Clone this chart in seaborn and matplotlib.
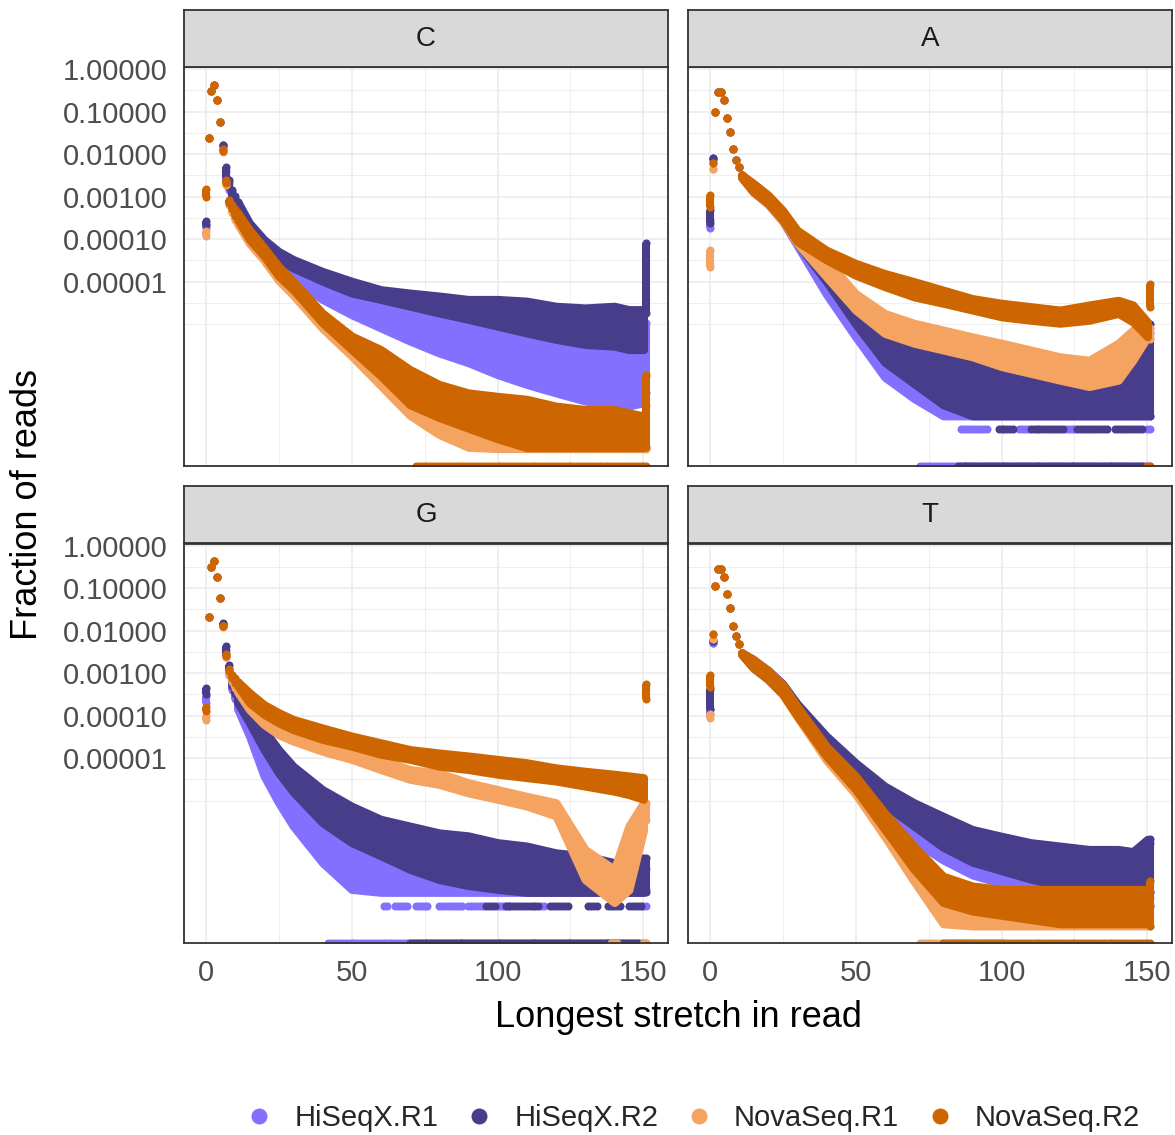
import numpy as np
import pandas as pd
import matplotlib
matplotlib.use("Agg")
import matplotlib.pyplot as plt
from matplotlib.lines import Line2D
from matplotlib.ticker import NullFormatter
import seaborn as sns

sns.set_theme(style="white")
plt.rcParams["font.family"] = ["Liberation Sans", "DejaVu Sans"]

# ---------------------------------------------------------------- data
SERIES = ["HiSeqX.R1", "HiSeqX.R2", "NovaSeq.R1", "NovaSeq.R2"]
COLORS = ["#8470FF", "#483D8B", "#F4A460", "#CD6600"]
PANELS = ["C", "A", "G", "T"]

# longest homopolymer stretch (x) at which the per-series spread is given
KNOT_X = [0, 1, 2, 3, 4, 5, 6, 7, 8, 9, 10, 11, 15, 20, 25, 30, 40, 50, 60,
          70, 80, 90, 100, 110, 120, 130, 140, 145, 150, 151]

# log10(fraction of reads): upper / lower edge over all samples of a series
C_HX1_HI = [-3.65, -1.63, -0.51, -0.38, -0.73, -1.24, -1.80, -2.40, -2.68, -2.90, -3.05, -3.18,
            -3.70, -4.10, -4.40, -4.60, -4.90, -5.15, -5.35, -5.45, -5.55, -5.65, -5.70, -5.75,
            -5.85, -5.90, -5.90, -5.95, -5.95, -5.97]
C_HX1_LO = [-3.75, -1.63, -0.51, -0.38, -0.73, -1.24, -1.82, -2.60, -2.85, -3.12, -3.30, -3.42,
            -4.01, -4.40, -4.72, -4.95, -5.42, -5.78, -6.09, -6.40, -6.68, -6.91, -7.19, -7.42,
            -7.62, -7.81, -7.93, -7.93, -7.85, -7.62]
C_HX2_HI = [-3.58, -1.63, -0.51, -0.38, -0.73, -1.24, -1.79, -2.30, -2.62, -2.85, -2.99, -3.12,
            -3.62, -4.01, -4.29, -4.48, -4.76, -4.99, -5.19, -5.27, -5.34, -5.42, -5.42, -5.46,
            -5.58, -5.62, -5.58, -5.66, -5.66, -4.10]
C_HX2_LO = [-3.66, -1.63, -0.51, -0.38, -0.73, -1.24, -1.79, -2.55, -2.78, -3.05, -3.22, -3.35,
            -3.77, -4.17, -4.48, -4.68, -4.99, -5.27, -5.42, -5.58, -5.74, -5.89, -6.05, -6.21,
            -6.36, -6.48, -6.52, -6.60, -6.60, -5.74]
C_NS1_HI = [-3.80, -1.63, -0.51, -0.38, -0.73, -1.24, -1.90, -2.65, -3.10, -3.25, -3.35, -3.45,
            -3.85, -4.30, -4.75, -5.10, -5.85, -6.40, -6.80, -7.30, -7.60, -7.90, -8.10, -8.20,
            -8.20, -8.25, -8.25, -8.25, -8.25, -7.90]
C_NS1_LO = [-3.92, -1.63, -0.51, -0.38, -0.73, -1.24, -1.95, -2.72, -3.20, -3.38, -3.55, -3.65,
            -4.10, -4.50, -4.97, -5.32, -6.10, -6.75, -7.45, -8.15, -8.60, -8.90, -8.93, -8.93,
            -8.93, -8.93, -8.93, -8.93, -8.93, -8.93]
C_NS2_HI = [-2.81, -1.63, -0.51, -0.38, -0.73, -1.24, -1.88, -2.62, -3.08, -3.20, -3.30, -3.38,
            -3.78, -4.20, -4.64, -4.99, -5.74, -6.28, -6.60, -7.07, -7.42, -7.62, -7.70, -7.77,
            -7.93, -8.01, -8.01, -8.09, -8.16, -7.20]
C_NS2_LO = [-3.00, -1.63, -0.51, -0.38, -0.73, -1.24, -1.92, -2.68, -3.15, -3.30, -3.46, -3.55,
            -4.01, -4.40, -4.87, -5.19, -5.97, -6.60, -7.22, -7.90, -8.20, -8.45, -8.70, -8.91,
            -8.91, -8.91, -8.91, -8.91, -8.91, -8.90]

A_HX1_HI = [-3.55, -2.12, -1.00, -0.53, -0.53, -0.73, -1.15, -1.47, -1.89, -2.13, -2.30, -2.49,
            -2.72, -3.00, -3.38, -3.90, -4.60, -5.45, -6.00, -6.45, -6.80, -7.00, -7.05, -7.10,
            -7.10, -7.10, -7.05, -7.00, -6.80, -6.20]
A_HX1_LO = [-3.73, -2.15, -1.00, -0.53, -0.53, -0.73, -1.15, -1.47, -1.89, -2.13, -2.30, -2.55,
            -2.90, -3.18, -3.58, -4.15, -5.30, -6.30, -7.25, -7.75, -8.16, -8.16, -8.16, -8.16,
            -8.16, -8.16, -8.16, -8.16, -8.16, -8.16]
A_HX2_HI = [-3.32, -2.08, -1.00, -0.53, -0.53, -0.73, -1.15, -1.47, -1.89, -2.13, -2.30, -2.49,
            -2.70, -2.98, -3.35, -3.85, -4.50, -5.35, -5.90, -6.30, -6.55, -6.70, -6.90, -7.00,
            -7.00, -7.00, -6.90, -6.80, -6.50, -6.00]
A_HX2_LO = [-3.62, -2.08, -1.00, -0.53, -0.53, -0.73, -1.15, -1.47, -1.89, -2.13, -2.30, -2.55,
            -2.88, -3.16, -3.55, -4.10, -5.00, -6.00, -6.90, -7.40, -7.90, -8.16, -8.16, -8.16,
            -8.16, -8.16, -8.16, -8.16, -8.16, -8.16]
A_NS1_HI = [-4.26, -2.34, -1.00, -0.53, -0.53, -0.73, -1.15, -1.47, -1.89, -2.13, -2.30, -2.49,
            -2.70, -2.98, -3.35, -3.85, -4.49, -5.28, -5.75, -5.98, -6.14, -6.30, -6.45, -6.61,
            -6.77, -6.85, -6.45, -6.14, -6.06, -6.10]
A_NS1_LO = [-4.65, -2.34, -1.00, -0.53, -0.53, -0.73, -1.15, -1.47, -1.89, -2.13, -2.30, -2.55,
            -2.90, -3.18, -3.58, -4.10, -4.89, -5.67, -6.22, -6.45, -6.61, -6.77, -7.00, -7.16,
            -7.32, -7.47, -7.32, -6.85, -6.30, -6.35]
A_NS2_HI = [-2.96, -2.22, -1.00, -0.53, -0.53, -0.73, -1.15, -1.47, -1.89, -2.13, -2.30, -2.49,
            -2.69, -2.96, -3.32, -3.79, -4.26, -4.57, -4.81, -5.00, -5.20, -5.40, -5.51, -5.59,
            -5.67, -5.55, -5.44, -5.55, -5.95, -5.05]
A_NS2_LO = [-3.24, -2.22, -1.00, -0.53, -0.53, -0.73, -1.15, -1.47, -1.89, -2.13, -2.30, -2.55,
            -2.89, -3.16, -3.55, -4.06, -4.49, -4.85, -5.12, -5.36, -5.51, -5.67, -5.83, -5.91,
            -5.98, -5.91, -5.75, -5.95, -6.30, -5.60]

G_HX1_HI = [-3.55, -1.68, -0.50, -0.36, -0.73, -1.23, -1.85, -2.45, -2.90, -3.15, -3.35, -3.50,
            -4.01, -4.80, -5.42, -5.90, -6.60, -6.99, -7.23, -7.46, -7.50, -7.55, -7.60, -7.60,
            -7.60, -7.60, -7.60, -7.60, -7.60, -7.60]
G_HX1_LO = [-3.70, -1.68, -0.50, -0.36, -0.73, -1.23, -1.88, -2.62, -3.05, -3.40, -3.62, -3.85,
            -4.48, -5.42, -6.05, -6.60, -7.46, -8.09, -8.16, -8.16, -8.16, -8.16, -8.16, -8.16,
            -8.16, -8.16, -8.16, -8.16, -8.16, -8.10]
G_HX2_HI = [-3.35, -1.68, -0.50, -0.36, -0.73, -1.23, -1.83, -2.37, -2.80, -3.05, -3.20, -3.35,
            -3.70, -4.33, -4.80, -5.19, -5.74, -6.13, -6.44, -6.60, -6.76, -6.83, -6.99, -7.07,
            -7.23, -7.30, -7.46, -7.42, -7.35, -7.35]
G_HX2_LO = [-3.50, -1.68, -0.50, -0.36, -0.73, -1.23, -1.85, -2.55, -2.95, -3.30, -3.50, -3.70,
            -4.17, -4.80, -5.35, -5.80, -6.52, -6.99, -7.30, -7.62, -7.86, -8.00, -8.09, -8.16,
            -8.16, -8.16, -8.16, -8.16, -8.16, -8.16]
G_NS1_HI = [-4.00, -1.68, -0.50, -0.36, -0.73, -1.23, -1.88, -2.58, -2.95, -3.12, -3.20, -3.30,
            -3.70, -4.05, -4.29, -4.45, -4.64, -4.84, -5.03, -5.27, -5.35, -5.58, -5.74, -5.90,
            -6.05, -7.15, -7.62, -6.60, -6.05, -6.05]
G_NS1_LO = [-4.10, -1.68, -0.50, -0.36, -0.73, -1.23, -1.92, -2.62, -3.02, -3.22, -3.35, -3.45,
            -3.86, -4.21, -4.45, -4.60, -4.84, -5.03, -5.27, -5.50, -5.62, -5.82, -5.97, -6.13,
            -6.36, -7.86, -8.40, -8.10, -6.70, -6.45]
G_NS2_HI = [-3.80, -1.68, -0.50, -0.36, -0.73, -1.23, -1.88, -2.55, -2.90, -3.05, -3.11, -3.20,
            -3.46, -3.74, -3.93, -4.09, -4.29, -4.48, -4.64, -4.80, -4.88, -4.95, -5.03, -5.11,
            -5.23, -5.31, -5.38, -5.42, -5.46, -3.25]
G_NS2_LO = [-3.90, -1.68, -0.50, -0.36, -0.73, -1.23, -1.90, -2.60, -2.95, -3.12, -3.23, -3.30,
            -3.70, -3.97, -4.17, -4.33, -4.56, -4.72, -4.91, -5.03, -5.19, -5.27, -5.38, -5.46,
            -5.54, -5.66, -5.78, -5.86, -5.97, -3.60]

T_HX1_HI = [-3.85, -2.30, -0.95, -0.55, -0.55, -0.73, -1.15, -1.46, -1.89, -2.13, -2.32, -2.52,
            -2.70, -2.95, -3.27, -3.75, -4.55, -5.15, -5.75, -6.15, -6.50, -6.80, -6.95, -7.05,
            -7.15, -7.20, -7.20, -7.20, -7.00, -7.00]
T_HX1_LO = [-3.97, -2.30, -0.95, -0.55, -0.55, -0.73, -1.15, -1.46, -1.89, -2.13, -2.32, -2.56,
            -2.88, -3.15, -3.48, -3.98, -4.85, -5.55, -6.35, -6.95, -7.40, -7.75, -7.95, -8.05,
            -8.12, -8.16, -8.16, -8.16, -8.16, -8.16]
T_HX2_HI = [-3.38, -2.25, -0.95, -0.55, -0.55, -0.73, -1.15, -1.46, -1.89, -2.13, -2.32, -2.52,
            -2.68, -2.93, -3.25, -3.72, -4.48, -5.11, -5.66, -6.05, -6.37, -6.68, -6.84, -6.99,
            -7.07, -7.15, -7.15, -7.20, -6.91, -6.90]
T_HX2_LO = [-3.85, -2.25, -0.95, -0.55, -0.55, -0.73, -1.15, -1.46, -1.89, -2.13, -2.32, -2.56,
            -2.88, -3.13, -3.47, -3.97, -4.80, -5.42, -6.10, -6.60, -7.10, -7.45, -7.65, -7.85,
            -8.00, -8.10, -8.16, -8.16, -8.16, -8.16]
T_NS1_HI = [-3.97, -2.20, -0.95, -0.55, -0.55, -0.73, -1.15, -1.46, -1.89, -2.13, -2.32, -2.52,
            -2.68, -2.95, -3.28, -3.80, -4.80, -5.50, -6.35, -7.20, -7.95, -8.20, -8.40, -8.40,
            -8.40, -8.40, -8.40, -8.40, -8.40, -8.30]
T_NS1_LO = [-4.05, -2.20, -0.95, -0.55, -0.55, -0.73, -1.15, -1.46, -1.89, -2.13, -2.32, -2.56,
            -2.88, -3.15, -3.50, -4.03, -5.05, -5.85, -6.85, -7.90, -8.90, -8.95, -8.95, -8.95,
            -8.95, -8.95, -8.95, -8.95, -8.95, -8.95]
T_NS2_HI = [-3.04, -2.07, -0.95, -0.55, -0.55, -0.73, -1.15, -1.46, -1.89, -2.13, -2.32, -2.52,
            -2.68, -2.95, -3.27, -3.78, -4.72, -5.42, -6.29, -7.07, -7.78, -8.01, -8.09, -8.09,
            -8.09, -8.09, -8.09, -8.09, -8.09, -7.90]
T_NS2_LO = [-3.32, -2.07, -0.95, -0.55, -0.55, -0.73, -1.15, -1.46, -1.89, -2.13, -2.32, -2.56,
            -2.88, -3.15, -3.50, -4.01, -4.96, -5.74, -6.68, -7.62, -8.40, -8.60, -8.70, -8.80,
            -8.90, -8.90, -8.90, -8.90, -8.90, -8.95]

# reads with a single supporting read (HiSeqX depth) and x-ranges where they occur
ONE_READ_LOG = -8.47
A_HX1_ONE = [(86, 95), (106, 109), (122, 125), (150, 151)]
A_HX2_ONE = [(99, 104), (110, 121), (126, 136), (139, 148)]
G_HX1_ONE = [(61, 62), (65, 69), (72, 76), (80, 88), (90, 95), (100, 104), (115, 116), (150, 151)]
G_HX2_ONE = [(96, 99), (103, 114), (118, 124), (131, 134), (138, 142), (145, 149)]
T_HX1_ONE = [(134, 137)]
T_HX2_ONE = [(125, 131), (138, 151)]

# x-ranges where some samples have a zero fraction (shown on the panel floor)
C_NS2_ZERO = [(72, 151)]
A_HX1_ZERO = [(72, 151)]
A_HX2_ZERO = [(85, 148)]
A_NS2_ZERO = [(150, 151)]
G_HX1_ZERO = [(42, 151)]
G_HX2_ZERO = [(70, 148)]
G_NS1_ZERO = [(139, 141), (150, 151)]
T_NS1_ZERO = [(72, 100)]
T_NS2_ZERO = [(80, 151)]

BANDS = {
    "C": [(C_HX1_HI, C_HX1_LO), (C_HX2_HI, C_HX2_LO), (C_NS1_HI, C_NS1_LO), (C_NS2_HI, C_NS2_LO)],
    "A": [(A_HX1_HI, A_HX1_LO), (A_HX2_HI, A_HX2_LO), (A_NS1_HI, A_NS1_LO), (A_NS2_HI, A_NS2_LO)],
    "G": [(G_HX1_HI, G_HX1_LO), (G_HX2_HI, G_HX2_LO), (G_NS1_HI, G_NS1_LO), (G_NS2_HI, G_NS2_LO)],
    "T": [(T_HX1_HI, T_HX1_LO), (T_HX2_HI, T_HX2_LO), (T_NS1_HI, T_NS1_LO), (T_NS2_HI, T_NS2_LO)],
}
ONES = {
    "C": [[], [], [], []],
    "A": [A_HX1_ONE, A_HX2_ONE, [], []],
    "G": [G_HX1_ONE, G_HX2_ONE, [], []],
    "T": [T_HX1_ONE, T_HX2_ONE, [], []],
}
ZEROS = {
    "C": [[], [], [], C_NS2_ZERO],
    "A": [A_HX1_ZERO, A_HX2_ZERO, [], A_NS2_ZERO],
    "G": [G_HX1_ZERO, G_HX2_ZERO, G_NS1_ZERO, []],
    "T": [[], [], T_NS1_ZERO, T_NS2_ZERO],
}

Y_BREAKS = [1, 1e-1, 1e-2, 1e-3, 1e-4, 1e-5]
Y_LABELS = ["1.00000", "0.10000", "0.01000", "0.00100", "0.00010", "0.00001"]
Y_MINOR = [10 ** v for v in (-0.5, -1.5, -2.5, -3.5, -4.5, -5.5, -6.0)]
X_BREAKS = [0, 50, 100, 150]
X_MINOR = [25, 75, 125]

# ---------------------------------------------------------------- layout
W, H = 1175, 1135
fig = plt.figure(figsize=(W / 100, H / 100), dpi=100)
fig.patch.set_facecolor("white")

PW, PH, STRIP_H = 484, 399, 57
BOX = {"C": (184, 67), "A": (688, 67), "G": (184, 543.5), "T": (688, 543.5)}
YLIM = (10 ** -9.34, 10 ** 0.05)
XLIM = (-7.4, 158.4)

DOT = 5.8          # marker diameter, points
BORDER = "#333333"
GRID = "#EBEBEB"


def ranges_to_x(ranges):
    if not ranges:
        return np.array([], dtype=float)
    return np.concatenate([np.arange(a, b + 1) for a, b in ranges]).astype(float)


def draw_points(ax, x, y, color):
    if len(x) == 0:
        return
    df = pd.DataFrame({"x": x, "frac": y})
    sns.scatterplot(data=df, x="x", y="frac", color=color, s=DOT ** 2,
                    linewidth=0, legend=False, ax=ax, zorder=2)


for name in PANELS:
    left, top = BOX[name]
    ax = fig.add_axes([left / W, 1 - (top + PH) / H, PW / W, PH / H])
    ax.set_yscale("log")
    ax.set_xlim(*XLIM)
    ax.set_ylim(*YLIM)

    kx = np.array(KNOT_X, dtype=float)
    band_mask = (kx >= 11) & (kx <= 150)
    seg_mask = (kx <= 11) | (kx == 151)

    for i, series in enumerate(SERIES):
        color = COLORS[i]
        hi_log, lo_log = BANDS[name][i]
        hi = 10 ** np.array(hi_log)
        lo = 10 ** np.array(lo_log)
        ax.fill_between(kx[band_mask], lo[band_mask], hi[band_mask],
                        facecolor=color, edgecolor=color, linewidth=DOT,
                        joinstyle="round", zorder=2)
        ax.vlines(kx[seg_mask], lo[seg_mask], hi[seg_mask], colors=color,
                  linewidth=DOT, zorder=2)
        draw_points(ax, np.r_[kx[seg_mask], kx[seg_mask]],
                    np.r_[hi[seg_mask], lo[seg_mask]], color)
        ox = ranges_to_x(ONES[name][i])
        draw_points(ax, ox, np.full(len(ox), 10 ** ONE_READ_LOG), color)
        zx = ranges_to_x(ZEROS[name][i])
        draw_points(ax, zx, np.full(len(zx), YLIM[0]), color)

    ax.set_xlim(*XLIM)
    ax.set_ylim(*YLIM)
    ax.set_xlabel("")
    ax.set_ylabel("")

    ax.set_yticks(Y_BREAKS)
    ax.set_yticks(Y_MINOR, minor=True)
    ax.yaxis.set_minor_formatter(NullFormatter())
    ax.set_xticks(X_BREAKS)
    ax.set_xticks(X_MINOR, minor=True)
    ax.xaxis.set_minor_formatter(NullFormatter())
    ax.set_axisbelow(True)
    ax.grid(which="major", color=GRID, linewidth=1.1)
    ax.grid(which="minor", color=GRID, linewidth=0.55)
    ax.tick_params(which="minor", length=0)

    left_col = name in ("C", "G")
    bottom_row = name in ("G", "T")
    ax.tick_params(axis="both", which="major", direction="out", length=5.8,
                   width=1.3, color=BORDER, labelsize=21, labelcolor="#4D4D4D", pad=6)
    if left_col:
        ax.set_yticklabels(Y_LABELS)
    else:
        ax.set_yticklabels([])
        ax.tick_params(axis="y", which="major", length=0)
    if bottom_row:
        ax.set_xticklabels([str(v) for v in X_BREAKS])
    else:
        ax.set_xticklabels([])
        ax.tick_params(axis="x", which="major", length=0)

    for sp in ax.spines.values():
        sp.set_color(BORDER)
        sp.set_linewidth(1.3)
        sp.set_zorder(5)

    # facet strip
    sax = fig.add_axes([left / W, 1 - top / H, PW / W, STRIP_H / H])
    sax.set_facecolor("#D9D9D9")
    sax.set_xticks([])
    sax.set_yticks([])
    for sp in sax.spines.values():
        sp.set_color(BORDER)
        sp.set_linewidth(1.3)
    sax.text(0.5, 0.5, name, ha="center", va="center", fontsize=20,
             color="#1A1A1A", transform=sax.transAxes)

fig.text(678 / W, 1 - 1027 / H, "Longest stretch in read", ha="center",
         va="baseline", fontsize=26, color="black")
fig.text(28 / W, 1 - 505 / H, "Fraction of reads", rotation=90, ha="center",
         va="center", fontsize=26, color="black")

handles = [Line2D([], [], marker="o", linestyle="", markersize=11.5,
                  markerfacecolor=c, markeredgewidth=0) for c in COLORS]
fig.legend(handles, SERIES, loc="center", bbox_to_anchor=(694 / W, 1 - 1118 / H),
           ncol=4, frameon=False, fontsize=21, handlelength=0.8,
           handletextpad=0.8, columnspacing=1.0, borderpad=0)

fig.savefig("out.png", dpi=100, facecolor="white")
